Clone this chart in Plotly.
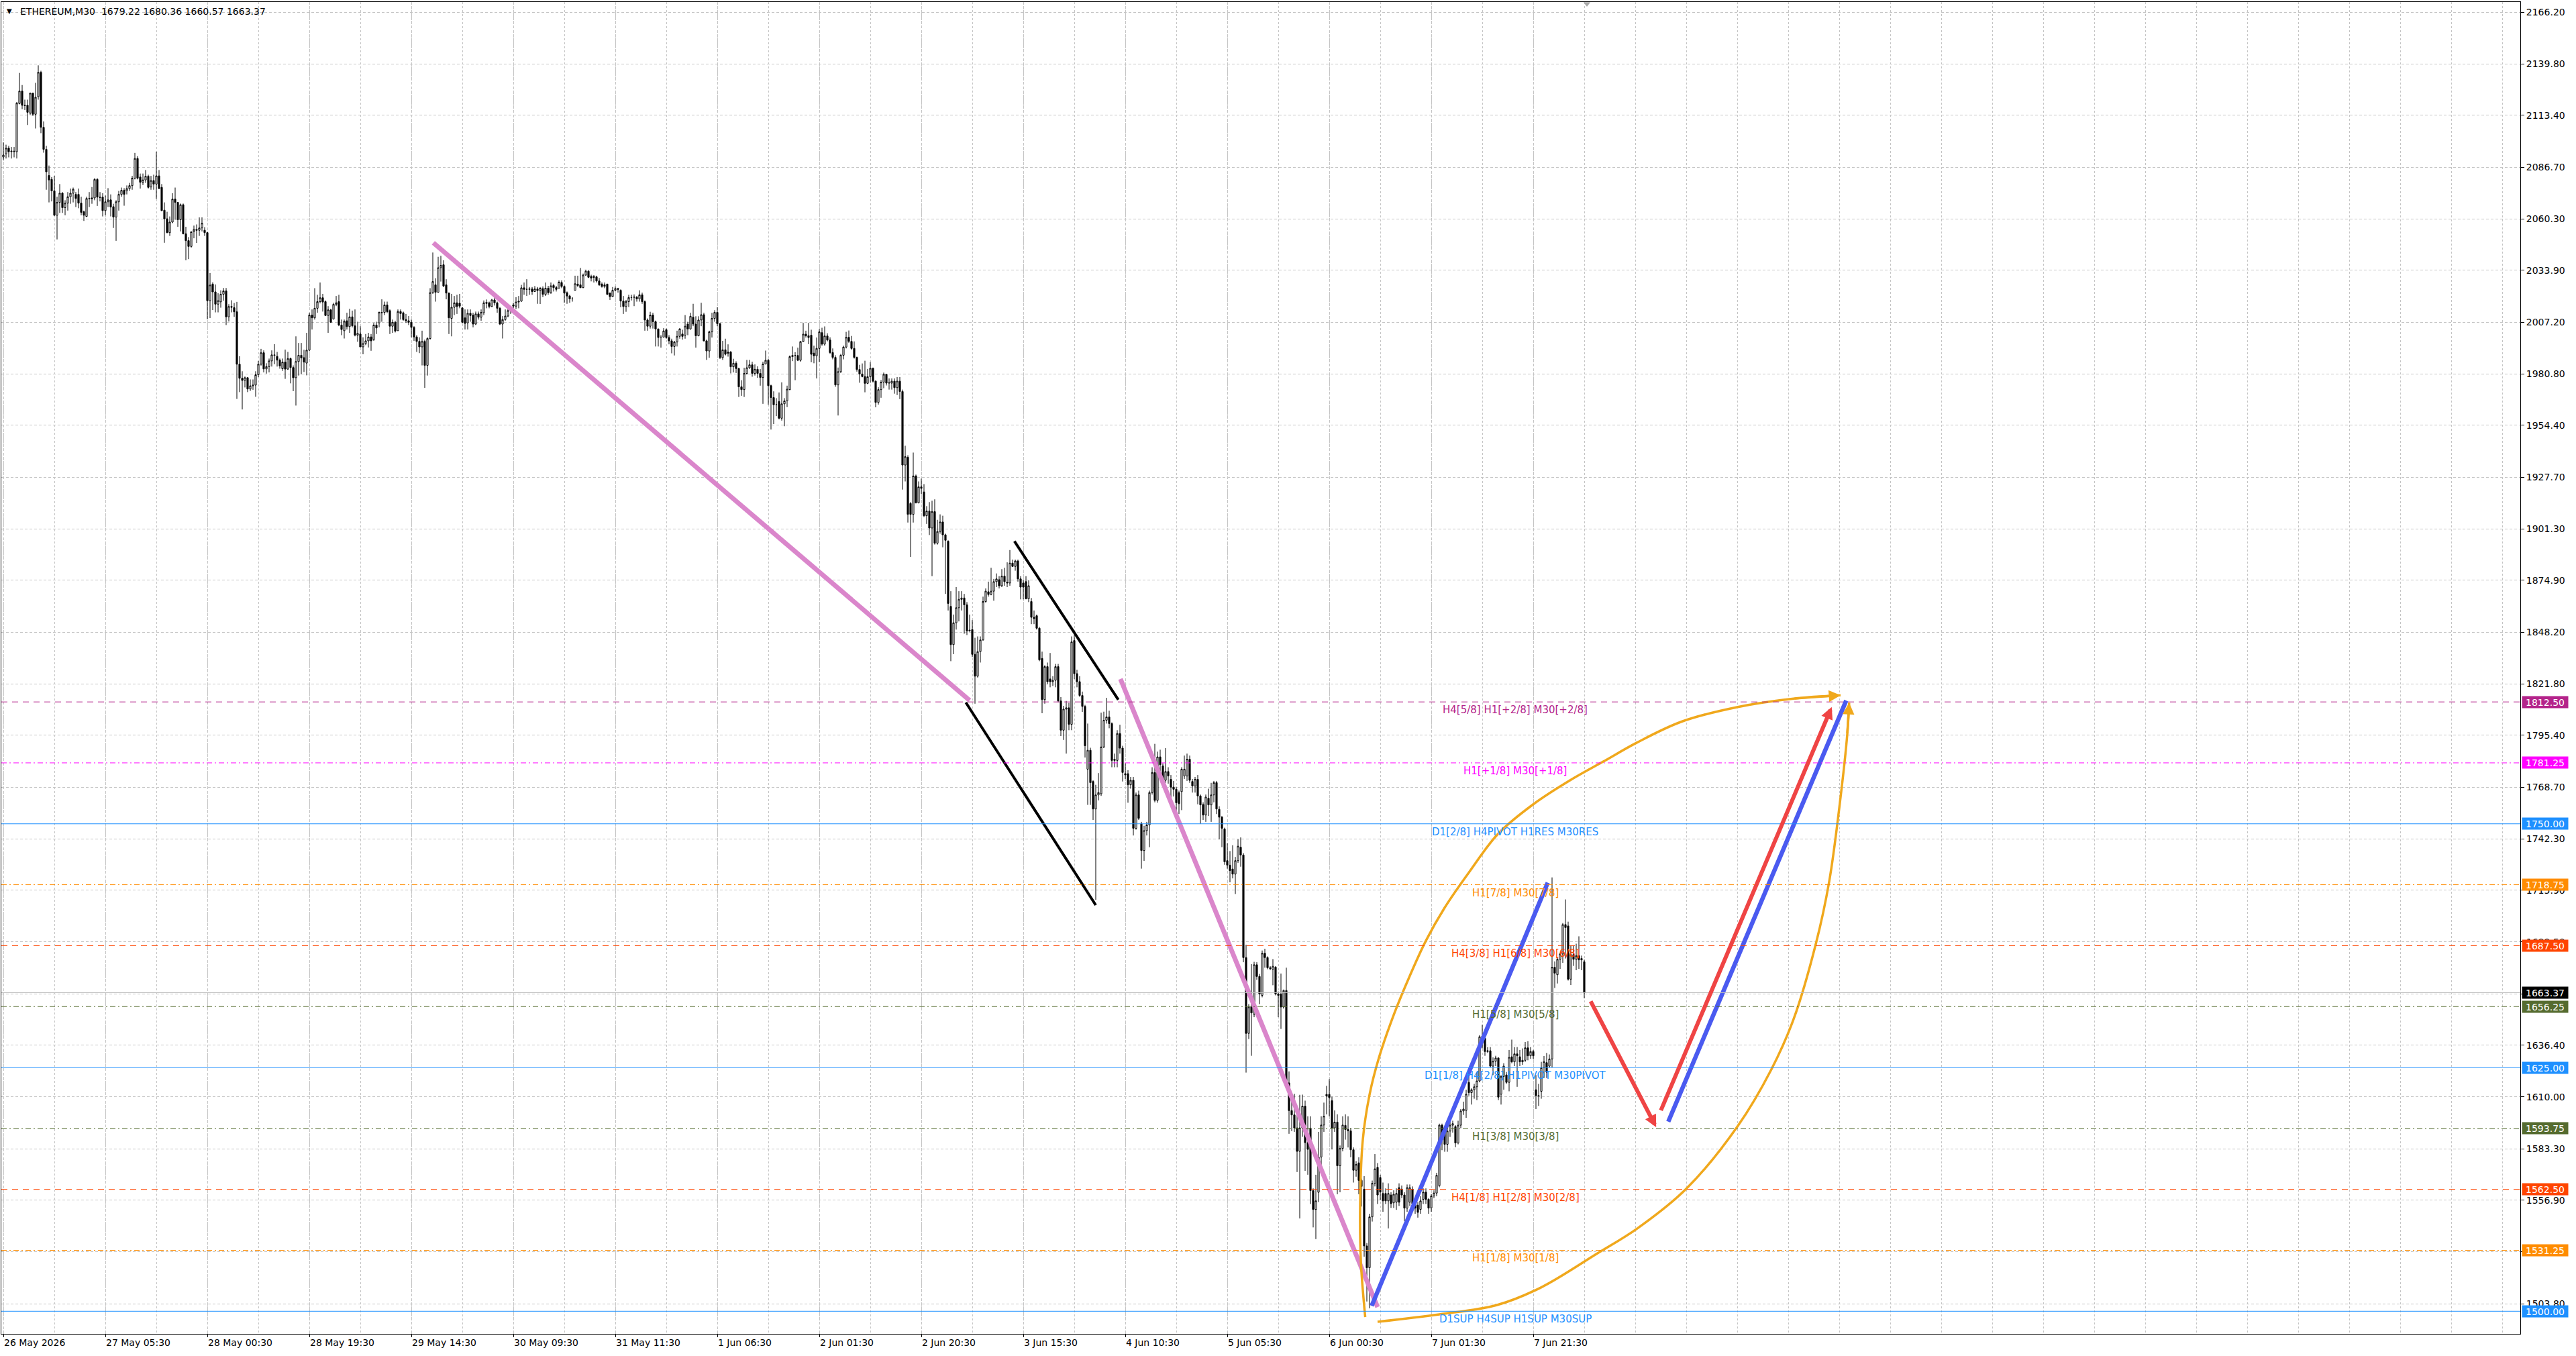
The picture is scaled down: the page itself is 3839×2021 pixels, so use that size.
import plotly.graph_objects as go

# ---------------- candle data (ETHEREUM, M30), one value per bar ----------------
opens = [
 2092.0, 2093.6, 2096.5, 2094.7, 2095.0, 2094.7, 2119.4, 2125.8, 2118.5, 2118.5,
 2114.5, 2124.7, 2113.9, 2122.9, 2135.4, 2107.2, 2095.9, 2082.5, 2080.5, 2074.6,
 2062.1, 2068.7, 2073.4, 2066.0, 2068.3, 2071.6, 2073.4, 2072.8, 2072.8, 2068.3,
 2063.9, 2061.5, 2070.7, 2070.5, 2071.0, 2080.5, 2071.4, 2071.4, 2064.5, 2069.0,
 2070.0, 2066.5, 2061.2, 2069.0, 2072.8, 2074.9, 2074.6, 2075.8, 2077.3, 2081.1,
 2091.2, 2081.7, 2079.0, 2080.2, 2082.1, 2076.6, 2079.9, 2078.1, 2082.3, 2076.4,
 2064.7, 2060.3, 2053.2, 2058.6, 2070.4, 2068.7, 2059.8, 2067.5, 2052.6, 2049.1,
 2046.1, 2053.6, 2054.8, 2054.4, 2055.6, 2054.4, 2053.2, 2018.3, 2026.8, 2022.8,
 2016.5, 2017.7, 2021.6, 2023.3, 2010.0, 2015.3, 2014.7, 2012.6, 1985.7, 1978.5,
 1977.4, 1978.8, 1973.0, 1974.6, 1975.0, 1980.3, 1985.7, 1991.6, 1983.3, 1984.5,
 1987.4, 1990.5, 1989.7, 1987.8, 1983.4, 1986.8, 1983.2, 1988.6, 1984.0, 1978.8,
 1987.1, 1990.3, 1989.1, 1986.3, 1992.9, 2010.9, 2009.5, 2014.4, 2017.8, 2019.8,
 2017.8, 2010.7, 2013.6, 2008.9, 2016.4, 2017.8, 2005.8, 2002.9, 2008.0, 2005.0,
 2010.0, 2005.4, 2000.6, 2001.2, 1994.6, 1996.3, 1997.7, 1999.7, 1998.3, 2005.8,
 2006.9, 2012.3, 2012.3, 2016.1, 2013.2, 2005.2, 2007.2, 2002.9, 2012.7, 2012.1,
 2008.6, 2008.0, 2007.2, 2004.6, 1999.7, 1997.4, 1994.6, 1997.4, 1985.1, 1998.9,
 2022.4, 2026.4, 2022.6, 2035.2, 2036.7, 2026.4, 2022.2, 2009.2, 2014.9, 2017.2,
 2017.0, 2014.6, 2009.5, 2006.9, 2011.8, 2010.9, 2006.3, 2011.5, 2009.8, 2012.1,
 2017.4, 2017.2, 2015.3, 2018.7, 2017.2, 2014.4, 2006.3, 2008.6, 2010.4, 2013.2,
 2016.1, 2015.5, 2017.6, 2018.0, 2024.9, 2024.1, 2024.1, 2024.3, 2023.0, 2024.3,
 2023.5, 2024.5, 2021.5, 2024.7, 2022.4, 2026.1, 2025.0, 2024.7, 2027.6, 2025.6,
 2022.4, 2020.7, 2019.2, 2023.6, 2026.8, 2026.4, 2025.0, 2031.4, 2033.4, 2030.7,
 2030.7, 2030.5, 2028.4, 2026.8, 2025.6, 2026.8, 2022.2, 2020.4, 2023.6, 2024.5,
 2023.6, 2018.1, 2015.3, 2017.8, 2019.9, 2020.1, 2020.1, 2019.2, 2021.3, 2017.8,
 2008.4, 2005.2, 2010.9, 2007.5, 2003.8, 1999.6, 1999.6, 2003.4, 1999.4, 1997.7,
 1994.8, 1997.1, 2000.0, 2001.2, 2000.6, 2006.3, 2003.8, 2009.8, 2006.3, 2000.3,
 2008.4, 2011.1, 1997.7, 1992.5, 2002.3, 2009.2, 2012.3, 2006.5, 1989.1, 1993.1,
 1991.9, 1991.9, 1984.4, 1986.2, 1983.5, 1974.1, 1972.7, 1981.0, 1983.9, 1985.4,
 1981.0, 1983.1, 1981.0, 1978.9, 1985.8, 1987.7, 1974.7, 1968.6, 1964.9, 1966.6,
 1958.0, 1965.4, 1966.9, 1972.7, 1989.6, 1990.2, 1990.2, 1987.7, 1997.3, 2001.1,
 2000.3, 2000.6, 1991.4, 1990.0, 1993.8, 2001.9, 1996.0, 2000.2, 1998.1, 1991.7,
 1989.2, 1975.1, 1981.9, 1990.3, 1994.5, 1999.5, 1997.4, 1993.8, 1989.2, 1983.0,
 1980.7, 1979.4, 1975.9, 1979.3, 1983.6, 1977.0, 1966.1, 1972.7, 1976.5, 1980.5,
 1976.0, 1976.0, 1977.0, 1973.7, 1977.0, 1971.7, 1934.0, 1938.0, 1914.3, 1908.7,
 1928.4, 1914.6, 1922.8, 1920.2, 1908.0, 1910.4, 1901.7, 1910.1, 1893.9, 1899.9,
 1904.8, 1898.2, 1894.9, 1861.5, 1841.9, 1853.1, 1860.8, 1865.1, 1865.8, 1862.3,
 1848.9, 1849.6, 1836.9, 1825.7, 1838.3, 1844.3, 1864.0, 1869.0, 1867.6, 1869.3,
 1874.2, 1875.2, 1872.1, 1877.0, 1873.9, 1873.5, 1883.7, 1882.0, 1884.8, 1875.6,
 1873.5, 1874.2, 1865.4, 1864.0, 1855.9, 1856.7, 1850.3, 1834.8, 1813.7, 1830.6,
 1824.3, 1822.9, 1823.6, 1830.6, 1813.0, 1798.0, 1808.8, 1809.5, 1801.0, 1844.0,
 1827.0, 1822.9, 1815.8, 1810.2, 1778.0, 1787.7, 1771.7, 1757.6, 1764.8, 1765.4,
 1789.4, 1803.1, 1804.8, 1801.4, 1783.1, 1782.5, 1796.3, 1788.8, 1775.7, 1775.7,
 1770.0, 1772.3, 1747.7, 1764.8, 1750.0, 1736.3, 1746.5, 1749.4, 1766.0, 1776.3,
 1762.0, 1784.3, 1779.7, 1772.3, 1776.8, 1772.8, 1768.8, 1767.7, 1766.0, 1766.5,
 1774.5, 1774.5, 1783.1, 1771.7, 1769.4, 1772.8, 1764.3, 1759.9, 1754.5, 1763.1,
 1759.7, 1764.8, 1771.1, 1757.4, 1753.4, 1747.3, 1731.1, 1728.8, 1726.8, 1724.2,
 1731.1, 1738.0, 1734.0, 1681.4, 1642.5, 1656.0, 1652.3, 1677.7, 1671.7, 1662.0,
 1683.6, 1681.4, 1676.2, 1675.4, 1676.5, 1662.7, 1662.7, 1656.0, 1664.5, 1617.1,
 1602.9, 1600.7, 1594.0, 1582.0, 1594.0, 1605.2, 1586.5, 1593.9, 1561.9, 1552.2,
 1561.0, 1579.1, 1595.5, 1611.2, 1611.2, 1608.0, 1594.0, 1597.0, 1574.6, 1583.5,
 1595.3, 1593.2, 1592.5, 1582.8, 1572.3, 1576.1, 1567.1, 1562.6, 1533.5, 1522.3,
 1548.4, 1565.6, 1573.8, 1568.6, 1560.4, 1560.4, 1556.6, 1559.6, 1555.6, 1555.9,
 1563.4, 1562.6, 1559.6, 1552.9, 1555.9, 1562.6, 1555.2, 1554.4, 1552.2, 1557.4,
 1561.1, 1557.4, 1553.0, 1559.1, 1560.6, 1564.4, 1595.4, 1592.4, 1585.6, 1592.4,
 1595.4, 1594.7, 1586.3, 1595.4, 1602.7, 1603.0, 1617.4, 1612.1, 1613.6, 1615.1,
 1618.1, 1640.8, 1640.0, 1633.2, 1633.6, 1625.7, 1628.2, 1629.9, 1611.3, 1620.4,
 1621.2, 1617.4, 1630.5, 1627.9, 1632.0, 1630.5, 1627.9, 1628.7, 1635.1, 1631.0,
 1633.2, 1613.6, 1610.6, 1612.8, 1624.9, 1627.5, 1625.7, 1629.4, 1676.4, 1672.6,
 1680.5, 1683.2, 1698.3, 1697.6, 1670.3, 1682.9, 1680.5, 1682.4, 1680.2, 1679.22,
]

highs = [
 2099.5, 2098.3, 2097.7, 2097.1, 2097.1, 2120.2, 2135.1, 2128.9, 2121.4, 2121.4,
 2125.0, 2124.9, 2130.0, 2139.0, 2136.2, 2110.2, 2097.7, 2087.6, 2081.7, 2082.3,
 2071.6, 2078.1, 2074.0, 2069.8, 2074.0, 2075.8, 2076.3, 2074.0, 2075.8, 2071.6,
 2064.5, 2071.6, 2074.0, 2076.6, 2081.1, 2081.1, 2074.0, 2073.4, 2072.2, 2076.0,
 2072.8, 2068.0, 2069.8, 2074.6, 2076.3, 2076.0, 2077.4, 2078.7, 2082.3, 2094.1,
 2092.4, 2083.5, 2083.5, 2085.3, 2082.9, 2082.3, 2082.9, 2094.7, 2085.3, 2078.1,
 2068.7, 2063.9, 2061.5, 2073.4, 2076.3, 2068.9, 2068.1, 2068.1, 2056.2, 2050.9,
 2053.8, 2056.8, 2057.4, 2061.0, 2061.0, 2056.0, 2053.5, 2032.5, 2027.7, 2026.6,
 2022.1, 2023.6, 2024.8, 2024.8, 2016.5, 2018.5, 2017.1, 2017.7, 1989.8, 1982.1,
 1979.4, 1979.1, 1977.9, 1977.9, 1982.1, 1987.4, 1993.6, 1992.8, 1986.2, 1988.6,
 1992.8, 1996.0, 1992.0, 1988.6, 1988.6, 1993.2, 1992.0, 1989.1, 1985.1, 2000.0,
 1996.6, 1996.6, 1993.1, 2001.8, 2012.1, 2013.8, 2024.7, 2021.3, 2027.6, 2021.8,
 2018.4, 2015.5, 2014.1, 2017.2, 2020.7, 2021.3, 2008.6, 2008.6, 2012.1, 2014.1,
 2013.2, 2013.8, 2007.5, 2005.2, 1999.5, 2001.2, 2001.8, 2001.2, 2006.9, 2007.5,
 2012.7, 2019.0, 2017.8, 2017.8, 2013.8, 2008.6, 2008.0, 2013.8, 2013.8, 2012.7,
 2011.5, 2010.4, 2008.6, 2005.2, 2000.6, 1999.5, 2002.9, 1998.3, 1999.5, 2024.7,
 2043.0, 2029.8, 2040.8, 2041.3, 2039.0, 2029.3, 2022.4, 2021.8, 2020.7, 2021.3,
 2021.8, 2014.9, 2013.8, 2013.8, 2013.8, 2012.1, 2012.7, 2012.7, 2013.8, 2018.4,
 2018.9, 2017.8, 2019.2, 2020.1, 2017.8, 2015.0, 2010.4, 2013.8, 2014.9, 2015.5,
 2017.2, 2020.1, 2020.7, 2026.4, 2027.6, 2029.3, 2025.3, 2025.3, 2025.8, 2025.3,
 2025.3, 2025.6, 2027.6, 2025.9, 2027.6, 2027.0, 2025.9, 2028.7, 2028.7, 2026.1,
 2023.0, 2021.3, 2020.1, 2031.1, 2031.1, 2035.1, 2032.2, 2034.2, 2033.9, 2031.6,
 2031.4, 2031.1, 2029.9, 2027.6, 2027.6, 2027.0, 2022.4, 2025.3, 2025.6, 2024.9,
 2024.1, 2020.7, 2018.7, 2021.3, 2021.3, 2021.5, 2020.7, 2023.6, 2022.4, 2018.4,
 2009.2, 2012.6, 2012.1, 2008.1, 2004.0, 2000.6, 2004.2, 2004.0, 2000.6, 1998.8,
 1997.7, 2002.9, 2004.2, 2003.4, 2010.9, 2007.5, 2012.1, 2016.7, 2010.3, 2010.3,
 2017.2, 2012.1, 1998.3, 2002.9, 2012.1, 2013.4, 2014.9, 2006.9, 1997.7, 1998.8,
 1995.9, 1992.5, 1988.5, 1987.2, 1983.9, 1977.5, 1983.9, 1987.9, 1987.9, 1987.0,
 1985.6, 1984.6, 1983.2, 1987.0, 1992.7, 1988.5, 1975.2, 1971.8, 1968.3, 1971.2,
 1976.4, 1968.3, 1974.7, 1990.2, 1994.8, 1991.9, 1994.2, 1997.7, 2006.9, 2002.9,
 2006.9, 2003.4, 1995.2, 1999.4, 2003.7, 2004.4, 2005.1, 2001.6, 1999.5, 1993.8,
 1990.3, 1984.0, 1991.0, 1995.2, 2002.3, 2003.0, 2000.2, 1997.4, 1989.6, 1985.4,
 1986.1, 1987.5, 1983.3, 1986.8, 1984.0, 1977.4, 1973.9, 1977.6, 1981.4, 1980.5,
 1978.4, 1978.4, 1978.4, 1979.1, 1979.1, 1972.7, 1943.9, 1939.0, 1915.0, 1940.4,
 1929.1, 1925.6, 1927.0, 1924.2, 1912.9, 1915.0, 1915.7, 1916.4, 1905.9, 1908.7,
 1908.0, 1898.8, 1895.4, 1869.3, 1857.3, 1871.4, 1869.3, 1869.3, 1867.9, 1863.7,
 1857.3, 1854.5, 1845.4, 1846.1, 1846.1, 1866.5, 1870.7, 1874.2, 1881.3, 1875.6,
 1878.4, 1877.0, 1880.6, 1881.3, 1884.1, 1890.4, 1885.5, 1885.5, 1885.5, 1877.0,
 1874.9, 1877.0, 1874.9, 1865.8, 1859.4, 1857.3, 1851.0, 1838.3, 1831.3, 1832.7,
 1837.6, 1825.7, 1832.0, 1832.0, 1815.0, 1810.5, 1813.0, 1812.0, 1846.1, 1846.8,
 1829.0, 1825.7, 1817.8, 1811.0, 1801.4, 1789.0, 1772.3, 1770.0, 1776.0, 1807.0,
 1807.5, 1814.6, 1808.0, 1802.0, 1786.0, 1798.0, 1800.8, 1790.0, 1781.0, 1777.5,
 1774.0, 1774.0, 1766.0, 1767.0, 1751.0, 1749.0, 1751.0, 1767.0, 1779.0, 1791.0,
 1787.0, 1788.0, 1781.0, 1788.8, 1779.0, 1775.0, 1772.0, 1769.0, 1767.0, 1779.0,
 1785.0, 1786.0, 1785.0, 1773.0, 1774.0, 1775.0, 1765.0, 1761.0, 1765.0, 1768.0,
 1771.0, 1772.0, 1772.0, 1759.0, 1754.0, 1748.0, 1740.0, 1736.0, 1739.0, 1733.0,
 1742.0, 1743.0, 1735.0, 1688.0, 1657.5, 1678.0, 1679.2, 1679.0, 1673.0, 1685.0,
 1685.9, 1682.0, 1677.0, 1680.6, 1677.0, 1664.0, 1673.2, 1665.0, 1676.2, 1623.0,
 1611.0, 1611.5, 1602.0, 1611.0, 1611.1, 1608.0, 1600.0, 1600.0, 1563.0, 1570.0,
 1592.0, 1600.0, 1607.0, 1615.6, 1619.0, 1610.0, 1603.0, 1601.0, 1585.0, 1600.0,
 1601.0, 1600.0, 1594.0, 1584.0, 1577.0, 1579.0, 1568.0, 1569.3, 1535.0, 1550.0,
 1567.0, 1580.6, 1576.0, 1570.0, 1566.0, 1563.0, 1565.6, 1561.0, 1562.0, 1563.0,
 1565.6, 1564.5, 1561.0, 1565.0, 1565.0, 1564.0, 1557.0, 1556.0, 1559.0, 1563.0,
 1563.0, 1558.0, 1560.0, 1562.0, 1571.0, 1596.2, 1596.2, 1593.9, 1596.9, 1597.7,
 1597.7, 1595.4, 1597.7, 1603.7, 1607.5, 1613.6, 1621.1, 1614.3, 1616.6, 1622.7,
 1641.6, 1646.9, 1641.6, 1635.5, 1635.5, 1630.2, 1631.0, 1630.2, 1621.1, 1627.2,
 1622.7, 1634.0, 1639.3, 1635.5, 1635.5, 1634.0, 1634.8, 1638.1, 1638.5, 1635.5,
 1634.0, 1621.1, 1616.6, 1627.9, 1630.9, 1632.5, 1631.7, 1722.5, 1679.4, 1681.7,
 1683.9, 1699.1, 1711.2, 1699.8, 1687.7, 1687.7, 1688.5, 1692.3, 1682.4, 1680.36,
]

lows = [
 2090.6, 2091.2, 2091.8, 2091.2, 2091.8, 2091.2, 2119.0, 2116.5, 2116.1, 2108.4,
 2113.7, 2113.0, 2106.6, 2121.4, 2104.2, 2094.2, 2075.2, 2068.7, 2069.2, 2061.8,
 2049.7, 2063.3, 2063.3, 2062.1, 2064.5, 2068.0, 2068.7, 2066.3, 2065.7, 2062.1,
 2059.2, 2061.2, 2066.3, 2068.0, 2069.8, 2066.9, 2069.2, 2061.5, 2062.1, 2066.3,
 2061.5, 2055.6, 2049.0, 2064.5, 2071.6, 2067.0, 2072.8, 2074.6, 2075.2, 2080.5,
 2080.5, 2075.8, 2077.6, 2078.7, 2075.8, 2075.2, 2075.2, 2070.4, 2075.6, 2064.2,
 2048.0, 2052.9, 2051.5, 2058.0, 2059.8, 2056.2, 2053.8, 2052.3, 2039.0, 2039.6,
 2045.5, 2050.3, 2047.9, 2051.5, 2053.8, 2051.5, 2008.8, 2009.4, 2013.5, 2012.3,
 2012.3, 2014.7, 2018.3, 2005.8, 2007.6, 2012.3, 2010.0, 1967.9, 1971.4, 1962.5,
 1973.8, 1971.4, 1972.0, 1972.6, 1969.0, 1979.1, 1985.0, 1981.5, 1980.9, 1981.5,
 1984.5, 1985.7, 1984.5, 1983.4, 1982.3, 1978.2, 1982.8, 1975.9, 1971.9, 1964.5,
 1979.9, 1980.5, 1981.7, 1980.0, 1992.6, 2003.5, 2008.6, 2012.1, 2016.9, 2012.7,
 2010.4, 2001.8, 2006.9, 2008.6, 2015.5, 2005.2, 2000.6, 1998.9, 2003.5, 2001.8,
 2004.6, 2000.0, 1997.2, 1994.3, 1990.8, 1995.5, 1994.3, 1992.6, 1997.7, 2001.2,
 2004.6, 2007.5, 2010.9, 2011.9, 2001.2, 2001.8, 2002.0, 2002.9, 2008.6, 2008.0,
 2006.9, 2005.8, 1999.5, 1997.7, 1992.0, 1991.4, 1985.1, 1973.6, 1979.9, 1998.3,
 2021.8, 2017.8, 2022.4, 2028.1, 2025.3, 2019.0, 2001.2, 2000.0, 2010.9, 2011.5,
 2014.4, 2006.6, 2003.5, 2003.5, 2007.5, 2004.6, 2005.8, 2008.6, 2008.0, 2010.9,
 2014.4, 2014.4, 2015.0, 2015.8, 2012.1, 2005.8, 1998.9, 2008.0, 2009.8, 2011.5,
 2014.4, 2014.0, 2014.4, 2017.8, 2021.3, 2020.7, 2021.3, 2021.3, 2022.9, 2016.7,
 2016.6, 2020.1, 2020.7, 2021.3, 2021.8, 2023.0, 2023.0, 2024.5, 2024.7, 2017.2,
 2016.7, 2017.2, 2017.8, 2023.6, 2025.3, 2024.7, 2024.7, 2031.1, 2029.9, 2028.2,
 2027.6, 2027.6, 2025.9, 2025.0, 2024.7, 2021.3, 2018.7, 2020.1, 2023.0, 2022.4,
 2014.9, 2011.5, 2012.6, 2015.0, 2018.4, 2015.5, 2017.8, 2017.8, 2016.7, 2002.9,
 2002.9, 2004.0, 2004.0, 1994.8, 1994.8, 1994.2, 1999.4, 1998.8, 1995.9, 1991.3,
 1990.2, 1994.8, 1998.8, 1998.3, 1998.8, 2000.6, 2003.4, 2005.2, 1994.2, 2000.0,
 2005.2, 1997.3, 1987.9, 1989.0, 1999.4, 2007.5, 2005.2, 1988.4, 1987.9, 1990.2,
 1989.6, 1981.0, 1981.5, 1981.2, 1968.9, 1969.5, 1968.9, 1980.4, 1983.3, 1979.3,
 1979.9, 1978.7, 1974.7, 1965.4, 1985.6, 1964.9, 1952.2, 1955.0, 1959.1, 1957.4,
 1956.8, 1953.9, 1963.7, 1972.4, 1987.3, 1977.5, 1987.3, 1987.0, 1997.1, 1999.4,
 1996.0, 1986.7, 1986.2, 1978.4, 1986.8, 1995.2, 1995.2, 1997.4, 1991.0, 1988.2,
 1974.1, 1959.4, 1981.2, 1988.2, 1993.8, 1996.7, 1993.1, 1988.6, 1981.9, 1976.2,
 1979.0, 1971.3, 1975.5, 1976.2, 1976.3, 1963.6, 1965.0, 1968.5, 1973.4, 1974.8,
 1972.7, 1972.7, 1970.6, 1969.9, 1967.8, 1921.4, 1925.6, 1904.5, 1886.9, 1904.5,
 1914.3, 1914.3, 1919.2, 1907.3, 1903.8, 1898.1, 1877.0, 1893.2, 1893.2, 1898.8,
 1891.8, 1867.9, 1859.4, 1833.4, 1837.0, 1849.6, 1853.8, 1859.4, 1847.5, 1846.8,
 1848.5, 1835.5, 1811.6, 1825.0, 1832.7, 1843.9, 1863.4, 1866.5, 1867.2, 1864.4,
 1871.4, 1870.7, 1871.4, 1872.1, 1871.4, 1872.1, 1881.9, 1879.8, 1874.2, 1865.1,
 1865.1, 1865.1, 1863.7, 1852.4, 1852.4, 1849.6, 1833.4, 1806.7, 1811.6, 1821.5,
 1820.0, 1820.7, 1820.0, 1812.3, 1795.0, 1793.0, 1786.0, 1798.0, 1798.0, 1824.3,
 1820.0, 1815.1, 1807.4, 1784.0, 1759.7, 1759.7, 1752.0, 1711.0, 1762.0, 1764.3,
 1788.8, 1801.4, 1799.0, 1779.0, 1779.0, 1779.0, 1786.0, 1771.7, 1773.0, 1760.8,
 1768.0, 1744.0, 1747.0, 1752.0, 1727.0, 1731.0, 1744.0, 1738.0, 1765.0, 1761.0,
 1760.8, 1777.0, 1771.0, 1771.0, 1770.6, 1762.0, 1764.0, 1756.0, 1755.0, 1757.0,
 1773.0, 1772.0, 1771.0, 1766.0, 1766.0, 1760.0, 1750.0, 1752.0, 1751.0, 1754.0,
 1751.0, 1761.0, 1755.0, 1742.0, 1738.0, 1729.0, 1727.0, 1720.0, 1722.0, 1714.0,
 1730.0, 1728.0, 1679.0, 1622.4, 1639.6, 1631.0, 1650.8, 1670.0, 1657.5, 1661.0,
 1676.2, 1675.4, 1674.9, 1667.2, 1662.0, 1650.8, 1644.8, 1655.2, 1616.4, 1591.0,
 1592.4, 1592.0, 1571.4, 1547.6, 1589.5, 1572.0, 1570.0, 1555.0, 1543.0, 1537.0,
 1556.0, 1573.0, 1592.0, 1601.0, 1600.0, 1583.0, 1592.0, 1560.0, 1561.0, 1582.0,
 1588.0, 1584.0, 1579.0, 1566.0, 1569.0, 1560.0, 1553.7, 1528.0, 1505.0, 1501.5,
 1546.0, 1564.0, 1555.0, 1557.0, 1551.0, 1555.0, 1542.5, 1553.0, 1553.0, 1552.0,
 1554.0, 1558.0, 1546.2, 1551.0, 1554.0, 1553.0, 1550.0, 1548.0, 1550.0, 1555.0,
 1555.0, 1550.0, 1551.0, 1558.0, 1559.0, 1563.6, 1582.6, 1581.8, 1581.8, 1589.4,
 1591.6, 1584.1, 1585.6, 1593.9, 1600.7, 1599.2, 1610.6, 1606.0, 1609.0, 1608.3,
 1617.4, 1634.8, 1631.0, 1632.5, 1625.0, 1621.1, 1625.7, 1608.3, 1606.0, 1613.6,
 1616.6, 1612.8, 1627.2, 1625.7, 1615.1, 1625.7, 1626.4, 1627.9, 1628.7, 1629.5,
 1629.5, 1603.7, 1605.3, 1609.0, 1619.6, 1619.6, 1624.9, 1625.0, 1665.8, 1668.1,
 1675.6, 1678.7, 1680.9, 1669.6, 1667.3, 1677.1, 1674.9, 1675.6, 1674.9, 1660.57,
]

closes = [
 2093.0, 2096.5, 2094.7, 2095.0, 2094.8, 2119.6, 2125.8, 2118.5, 2118.3, 2114.9,
 2124.7, 2113.9, 2122.6, 2135.4, 2107.2, 2095.9, 2084.4, 2080.2, 2074.6, 2062.1,
 2068.7, 2073.4, 2066.0, 2068.3, 2071.6, 2073.4, 2075.4, 2070.7, 2068.3, 2063.6,
 2062.1, 2070.7, 2070.5, 2071.0, 2080.5, 2071.4, 2071.2, 2064.5, 2069.0, 2070.0,
 2066.3, 2061.2, 2069.0, 2072.8, 2074.9, 2072.8, 2075.8, 2077.3, 2081.1, 2091.2,
 2081.1, 2079.0, 2080.2, 2082.1, 2076.4, 2079.9, 2078.1, 2082.3, 2075.8, 2064.5,
 2060.3, 2053.2, 2058.6, 2070.4, 2068.7, 2059.8, 2067.5, 2052.6, 2049.1, 2046.1,
 2053.6, 2054.8, 2054.4, 2055.6, 2058.0, 2053.2, 2018.3, 2026.3, 2022.8, 2016.5,
 2018.3, 2021.6, 2023.3, 2010.0, 2015.3, 2014.9, 2012.6, 1985.7, 1978.5, 1977.4,
 1978.8, 1973.0, 1974.6, 1975.0, 1980.3, 1985.7, 1991.6, 1983.3, 1984.5, 1987.4,
 1990.5, 1990.3, 1987.8, 1984.8, 1986.8, 1983.2, 1988.6, 1984.0, 1978.8, 1987.1,
 1990.3, 1988.9, 1986.8, 1992.9, 2010.9, 2009.5, 2014.4, 2017.8, 2019.8, 2017.6,
 2010.7, 2013.6, 2007.2, 2016.4, 2017.2, 2005.8, 2003.5, 2007.7, 2005.0, 2010.0,
 2005.4, 2000.6, 2001.5, 1994.6, 1996.3, 1997.7, 1999.7, 1997.7, 2005.8, 2004.3,
 2012.3, 2012.1, 2016.1, 2012.7, 2005.2, 2007.2, 2002.7, 2012.7, 2011.7, 2008.6,
 2008.0, 2007.2, 2004.6, 1999.7, 1997.4, 1994.6, 1997.4, 1985.1, 1998.9, 2022.4,
 2028.1, 2022.6, 2035.2, 2036.4, 2025.8, 2022.2, 2009.5, 2014.9, 2017.2, 2015.3,
 2015.5, 2007.2, 2006.6, 2011.8, 2010.7, 2006.3, 2011.5, 2009.8, 2012.3, 2017.2,
 2016.9, 2015.3, 2018.7, 2017.2, 2014.4, 2006.3, 2008.6, 2010.4, 2013.2, 2013.8,
 2015.5, 2017.6, 2018.0, 2024.9, 2024.1, 2024.1, 2024.3, 2023.0, 2024.3, 2023.5,
 2024.7, 2021.5, 2024.7, 2022.4, 2025.9, 2025.0, 2024.1, 2027.8, 2025.6, 2022.2,
 2020.7, 2019.2, 2019.2, 2027.0, 2026.1, 2025.0, 2031.4, 2033.4, 2030.3, 2029.9,
 2030.2, 2028.4, 2026.4, 2025.6, 2026.4, 2021.5, 2020.4, 2023.6, 2024.5, 2024.1,
 2018.1, 2015.3, 2017.8, 2019.9, 2019.9, 2020.1, 2019.2, 2021.3, 2017.8, 2008.4,
 2005.2, 2010.9, 2007.5, 2003.8, 1999.4, 1999.6, 2002.8, 1999.4, 1997.7, 1994.8,
 1997.1, 2000.0, 2003.8, 2000.0, 2005.2, 2003.8, 2010.3, 2006.3, 2000.3, 2008.4,
 2011.1, 1997.7, 1992.5, 2002.3, 2009.2, 2012.3, 2006.5, 1989.1, 1993.1, 1990.8,
 1991.3, 1984.4, 1986.2, 1983.5, 1974.1, 1972.7, 1981.0, 1983.9, 1985.4, 1981.0,
 1983.1, 1981.0, 1978.9, 1985.8, 1987.7, 1974.7, 1968.6, 1964.9, 1964.9, 1958.0,
 1965.4, 1966.9, 1972.9, 1989.6, 1990.2, 1990.2, 1987.7, 1997.3, 2001.1, 2000.3,
 1999.4, 1990.8, 1990.0, 1993.8, 2002.3, 1996.0, 2000.2, 1998.1, 1991.7, 1989.2,
 1975.1, 1981.9, 1990.3, 1994.5, 1999.5, 1997.4, 1993.8, 1989.2, 1983.0, 1980.7,
 1979.4, 1975.9, 1979.3, 1983.6, 1977.0, 1966.1, 1972.7, 1976.5, 1980.5, 1976.0,
 1976.2, 1977.0, 1973.7, 1977.0, 1971.7, 1934.0, 1938.3, 1908.7, 1908.7, 1928.4,
 1914.6, 1922.8, 1922.0, 1908.0, 1910.4, 1901.7, 1910.1, 1893.9, 1899.9, 1904.8,
 1898.2, 1895.4, 1863.0, 1841.9, 1853.1, 1860.8, 1865.1, 1865.8, 1862.3, 1848.9,
 1849.3, 1836.9, 1825.7, 1838.3, 1844.3, 1864.0, 1869.3, 1867.6, 1869.3, 1874.2,
 1875.6, 1872.1, 1877.0, 1874.2, 1873.5, 1883.7, 1882.0, 1884.8, 1875.6, 1871.4,
 1871.4, 1865.4, 1872.1, 1855.9, 1855.2, 1850.3, 1834.1, 1813.7, 1830.6, 1822.9,
 1822.9, 1823.5, 1830.6, 1813.0, 1798.0, 1808.8, 1809.5, 1801.0, 1843.3, 1827.0,
 1822.9, 1815.8, 1810.2, 1790.0, 1787.7, 1771.1, 1757.6, 1764.8, 1766.0, 1789.4,
 1803.1, 1804.8, 1801.4, 1782.5, 1782.5, 1796.3, 1788.8, 1776.3, 1775.1, 1770.0,
 1772.3, 1747.7, 1764.8, 1752.8, 1736.3, 1746.5, 1749.4, 1766.0, 1776.3, 1762.0,
 1784.3, 1780.3, 1772.3, 1776.8, 1774.5, 1768.8, 1767.7, 1760.8, 1760.3, 1778.0,
 1778.0, 1783.1, 1772.3, 1769.4, 1772.8, 1764.3, 1759.7, 1754.5, 1763.7, 1759.7,
 1764.8, 1771.1, 1757.6, 1753.4, 1747.7, 1730.5, 1728.8, 1726.0, 1724.2, 1731.1,
 1738.5, 1734.0, 1681.4, 1642.5, 1656.0, 1653.0, 1677.7, 1671.7, 1662.7, 1683.6,
 1681.4, 1676.2, 1675.7, 1676.9, 1662.7, 1662.0, 1656.0, 1664.5, 1617.1, 1602.9,
 1600.7, 1594.0, 1582.0, 1594.0, 1605.2, 1586.5, 1583.0, 1561.9, 1552.2, 1556.6,
 1579.1, 1595.5, 1600.0, 1610.4, 1609.6, 1594.0, 1597.0, 1574.6, 1583.5, 1595.5,
 1593.2, 1592.5, 1582.8, 1572.3, 1575.3, 1567.1, 1564.0, 1533.5, 1522.3, 1548.4,
 1565.6, 1573.0, 1559.6, 1561.1, 1556.6, 1556.6, 1560.4, 1555.2, 1560.0, 1560.4,
 1555.9, 1559.6, 1552.9, 1563.4, 1563.4, 1555.2, 1552.9, 1550.7, 1556.6, 1561.1,
 1557.4, 1552.9, 1559.1, 1560.6, 1569.7, 1595.4, 1587.9, 1585.6, 1592.4, 1595.4,
 1596.2, 1586.3, 1595.4, 1602.7, 1603.7, 1611.3, 1612.1, 1613.6, 1615.1, 1618.1,
 1640.8, 1641.0, 1633.2, 1633.6, 1625.7, 1628.2, 1629.9, 1609.8, 1620.4, 1625.7,
 1617.4, 1630.2, 1627.9, 1632.0, 1631.0, 1627.9, 1628.7, 1635.1, 1631.0, 1633.2,
 1631.0, 1610.6, 1610.4, 1624.9, 1628.0, 1622.6, 1629.4, 1676.4, 1673.4, 1680.5,
 1683.2, 1698.3, 1696.8, 1670.3, 1682.9, 1680.5, 1682.4, 1680.2, 1680.9, 1663.37,
]

# ---------------- axes ----------------
time_label_bars = [0, 38, 76, 114, 152, 190, 228, 266, 304, 342, 380, 418, 456, 494, 532, 570]
time_labels = ["26 May 2026", "27 May 05:30", "28 May 00:30", "28 May 19:30", "29 May 14:30",
               "30 May 09:30", "31 May 11:30", "1 Jun 06:30", "2 Jun 01:30", "2 Jun 20:30",
               "3 Jun 15:30", "4 Jun 10:30", "5 Jun 05:30", "6 Jun 00:30", "7 Jun 01:30",
               "7 Jun 21:30"]
price_ticks = [2166.20, 2139.80, 2113.40, 2086.70, 2060.30, 2033.90, 2007.20, 1980.80, 1954.40,
               1927.70, 1901.30, 1874.90, 1848.20, 1821.80, 1795.40, 1768.70, 1742.30, 1715.90,
               1689.50, 1662.80, 1636.40, 1610.00, 1583.30, 1556.90, 1530.50, 1503.80]

# ---------------- Murrey levels ----------------
level_prices = [1812.50, 1781.25, 1750.00, 1718.75, 1687.50, 1656.25, 1625.00, 1593.75, 1562.50, 1531.25, 1500.00]
level_texts = ["H4[5/8] H1[+2/8] M30[+2/8]", "H1[+1/8] M30[+1/8]", "D1[2/8] H4PIVOT H1RES M30RES",
               "H1[7/8] M30[7/8]", "H4[3/8] H1[6/8] M30[6/8]", "H1[5/8] M30[5/8]",
               "D1[1/8] H4[2/8] H1PIVOT M30PIVOT", "H1[3/8] M30[3/8]", "H4[1/8] H1[2/8] M30[2/8]",
               "H1[1/8] M30[1/8]", "D1SUP H4SUP H1SUP M30SUP"]
level_colors = ["#B4238A", "#FF00FF", "#1E90FF", "#FF8C00", "#FF4500", "#556B2F",
                "#1E90FF", "#556B2F", "#FF4500", "#FF8C00", "#1E90FF"]
level_dashes = ["9px,7px", "8px,4px,2px,4px", "solid", "8px,4px,2px,4px", "9px,7px", "8px,4px,2px,4px",
                "solid", "8px,4px,2px,4px", "9px,7px", "8px,4px,2px,4px", "solid"]
level_label_bar = 563.25
current_price = 1663.37

# ---------------- hand drawn objects (bar index, price) ----------------
pink_a_bars, pink_a_prices = [160.2, 360.0], [2048.0, 1813.3]
pink_b_bars, pink_b_prices = [416.2, 512.0], [1824.3, 1502.1]
black_a_bars, black_a_prices = [376.7, 415.4], [1894.9, 1813.6]
black_b_bars, black_b_prices = [358.6, 407.0], [1812.2, 1708.3]
blue_a_bars, blue_a_prices = [509.8, 575.4], [1502.8, 1719.8]
blue_b_bars, blue_b_prices = [620.3, 686.6], [1597.2, 1813.2]
red_a_bars, red_a_prices = [591.2, 615.8], [1659.5, 1594.4]
red_b_bars, red_b_prices = [617.4, 681.2], [1602.5, 1809.9]
arc_up_bars = [507.4, 505.8, 505.5, 506.5, 509.0, 512.5, 518.3, 524.0, 530.0, 537.0, 546.0,
               557.0, 570.0, 583.7, 596.2, 608.7, 625.3, 646.2, 667.0, 684.5]
arc_up_prices = [1497.0, 1525.0, 1555.0, 1588.0, 1611.0, 1630.0, 1653.0, 1672.0, 1690.0, 1707.0, 1725.0,
                 1745.0, 1760.0, 1772.3, 1782.0, 1791.7, 1802.4, 1809.9, 1814.2, 1815.9]
arc_low_bars = [512.0, 535.0, 556.3, 572.9, 593.8, 608.7, 627.0, 646.2, 658.7,
                667.0, 675.3, 680.3, 684.5, 687.0, 687.7]
arc_low_prices = [1494.6, 1498.4, 1503.1, 1512.2, 1529.6, 1542.4, 1562.8, 1595.0, 1624.0,
                  1649.8, 1688.5, 1720.7, 1763.7, 1796.0, 1812.1]

FONT = "DejaVu Sans"
ORANGE = "#F0A81C"
BLUE = "#4A5AF0"
RED = "#EF4444"
PINK = "#DA86CB"

bars = list(range(len(closes)))
hi_plot = [max(h, o, c) for h, o, c in zip(highs, opens, closes)]
lo_plot = [min(l, o, c) for l, o, c in zip(lows, opens, closes)]

fig = go.Figure()
fig.add_trace(go.Candlestick(
    x=bars, open=opens, high=hi_plot, low=lo_plot, close=closes,
    increasing=dict(line=dict(color="#000000", width=1), fillcolor="#FFFFFF"),
    decreasing=dict(line=dict(color="#000000", width=1), fillcolor="#000000"),
    whiskerwidth=0, hoverinfo="skip", showlegend=False))


def seg(xs, ys, color, width, shape="linear"):
    fig.add_trace(go.Scatter(x=xs, y=ys, mode="lines", line=dict(color=color, width=width, shape=shape),
                             hoverinfo="skip", showlegend=False))


seg(pink_a_bars, pink_a_prices, PINK, 7)
seg(pink_b_bars, pink_b_prices, PINK, 7)
seg(black_a_bars, black_a_prices, "#000000", 4)
seg(black_b_bars, black_b_prices, "#000000", 4)
seg(blue_a_bars, blue_a_prices, BLUE, 6.5)
seg(blue_b_bars, blue_b_prices, BLUE, 6.5)
seg(arc_up_bars, arc_up_prices, ORANGE, 3.5, "spline")
seg(arc_low_bars, arc_low_prices, ORANGE, 3.5, "spline")

# chart shift marker at the top
fig.add_trace(go.Scatter(x=[590], y=[2170.6], mode="markers", cliponaxis=False,
                         marker=dict(symbol="triangle-down", size=9, color="#A8A8A8"),
                         hoverinfo="skip", showlegend=False))

shapes = []
annotations = []
for p, t, col, d in zip(level_prices, level_texts, level_colors, level_dashes):
    shapes.append(dict(type="line", xref="paper", x0=0, x1=1, yref="y", y0=p, y1=p,
                       line=dict(color=col, width=1, dash=d), layer="above"))
    annotations.append(dict(x=level_label_bar, y=p, xref="x", yref="y", text=t, showarrow=False,
                            xanchor="center", yanchor="top", yshift=-1,
                            font=dict(family=FONT, size=15, color=col)))
shapes.append(dict(type="line", xref="paper", x0=0, x1=1, yref="y", y0=current_price, y1=current_price,
                   line=dict(color="#BDBDBD", width=1), layer="above"))

# price boxes on the right axis
for p, col in list(zip(level_prices, level_colors)) + [(current_price, "#000000")]:
    annotations.append(dict(x=1, y=p, xref="paper", yref="y", text=f"{p:.2f}", showarrow=False,
                            xanchor="left", yanchor="middle", xshift=2, width=68, height=17,
                            bgcolor=col, borderpad=0, align="center",
                            font=dict(family=FONT, size=14, color="#FFFFFF")))

# arrows (red) and arc arrow heads
annotations.append(dict(x=red_a_bars[1], y=red_a_prices[1], ax=red_a_bars[0], ay=red_a_prices[0],
                        xref="x", yref="y", axref="x", ayref="y", showarrow=True, text="",
                        arrowhead=2, arrowsize=0.6, arrowwidth=6, arrowcolor=RED))
annotations.append(dict(x=red_b_bars[1], y=red_b_prices[1], ax=red_b_bars[0], ay=red_b_prices[0],
                        xref="x", yref="y", axref="x", ayref="y", showarrow=True, text="",
                        arrowhead=2, arrowsize=0.6, arrowwidth=6, arrowcolor=RED))
annotations.append(dict(x=arc_up_bars[-1], y=arc_up_prices[-1], ax=arc_up_bars[-2], ay=arc_up_prices[-2],
                        xref="x", yref="y", axref="x", ayref="y", showarrow=True, text="",
                        arrowhead=2, arrowsize=1.0, arrowwidth=3.5, arrowcolor=ORANGE))
annotations.append(dict(x=arc_low_bars[-1], y=arc_low_prices[-1], ax=arc_low_bars[-2], ay=arc_low_prices[-2],
                        xref="x", yref="y", axref="x", ayref="y", showarrow=True, text="",
                        arrowhead=2, arrowsize=1.0, arrowwidth=3.5, arrowcolor=ORANGE))

# title
annotations.append(dict(x=0, y=1, xref="paper", yref="paper", text="\u25BC", showarrow=False,
                        xanchor="left", yanchor="top", xshift=6, yshift=-6,
                        font=dict(family=FONT, size=10, color="#000000")))
annotations.append(dict(x=0, y=1, xref="paper", yref="paper",
                        text="ETHEREUM,M30\u00a0\u00a01679.22 1680.36 1660.57 1663.37", showarrow=False,
                        xanchor="left", yanchor="top", xshift=26, yshift=-4,
                        font=dict(family=FONT, size=14, color="#000000")))

GRID = "#C4C4C4"
fig.update_layout(
    width=3839, height=2021,
    margin=dict(l=2, r=83, t=3, b=33, pad=0),
    paper_bgcolor="#FFFFFF", plot_bgcolor="#FFFFFF",
    template="none",
    showlegend=False,
    boxgap=0.25,
    shapes=shapes, annotations=annotations,
    font=dict(family=FONT, size=14, color="#000000"),
    xaxis=dict(range=[-0.75, 937.75], tickmode="array", tickvals=time_label_bars, ticktext=time_labels,
               ticklabelposition="outside right", ticks="outside", ticklen=4, tickcolor="#000000",
               showgrid=True, gridcolor=GRID, griddash="4px,3px", gridwidth=1,
               minor=dict(tick0=0, dtick=19, showgrid=True, gridcolor=GRID, griddash="3px,3px", gridwidth=1),
               showline=True, linecolor="#000000", linewidth=1, mirror=True, zeroline=False,
               rangeslider=dict(visible=False), tickfont=dict(family=FONT, size=14, color="#000000"),
               automargin=False, fixedrange=True),
    yaxis=dict(range=[1488.4, 2171.47], side="right", tickmode="array", tickvals=price_ticks,
               ticktext=[f"{v:.2f}" for v in price_ticks], ticks="outside", ticklen=5, tickcolor="#000000",
               showgrid=True, gridcolor=GRID, griddash="4px,3px", gridwidth=1,
               showline=True, linecolor="#000000", linewidth=1, mirror=True, zeroline=False,
               tickfont=dict(family=FONT, size=14, color="#000000"), automargin=False, fixedrange=True),
)

fig.write_html("out.html", include_plotlyjs=True, config={"displayModeBar": False},
               post_script="document.body.style.margin='0';document.body.style.overflow='hidden';"
                           "document.documentElement.style.overflow='hidden';")
